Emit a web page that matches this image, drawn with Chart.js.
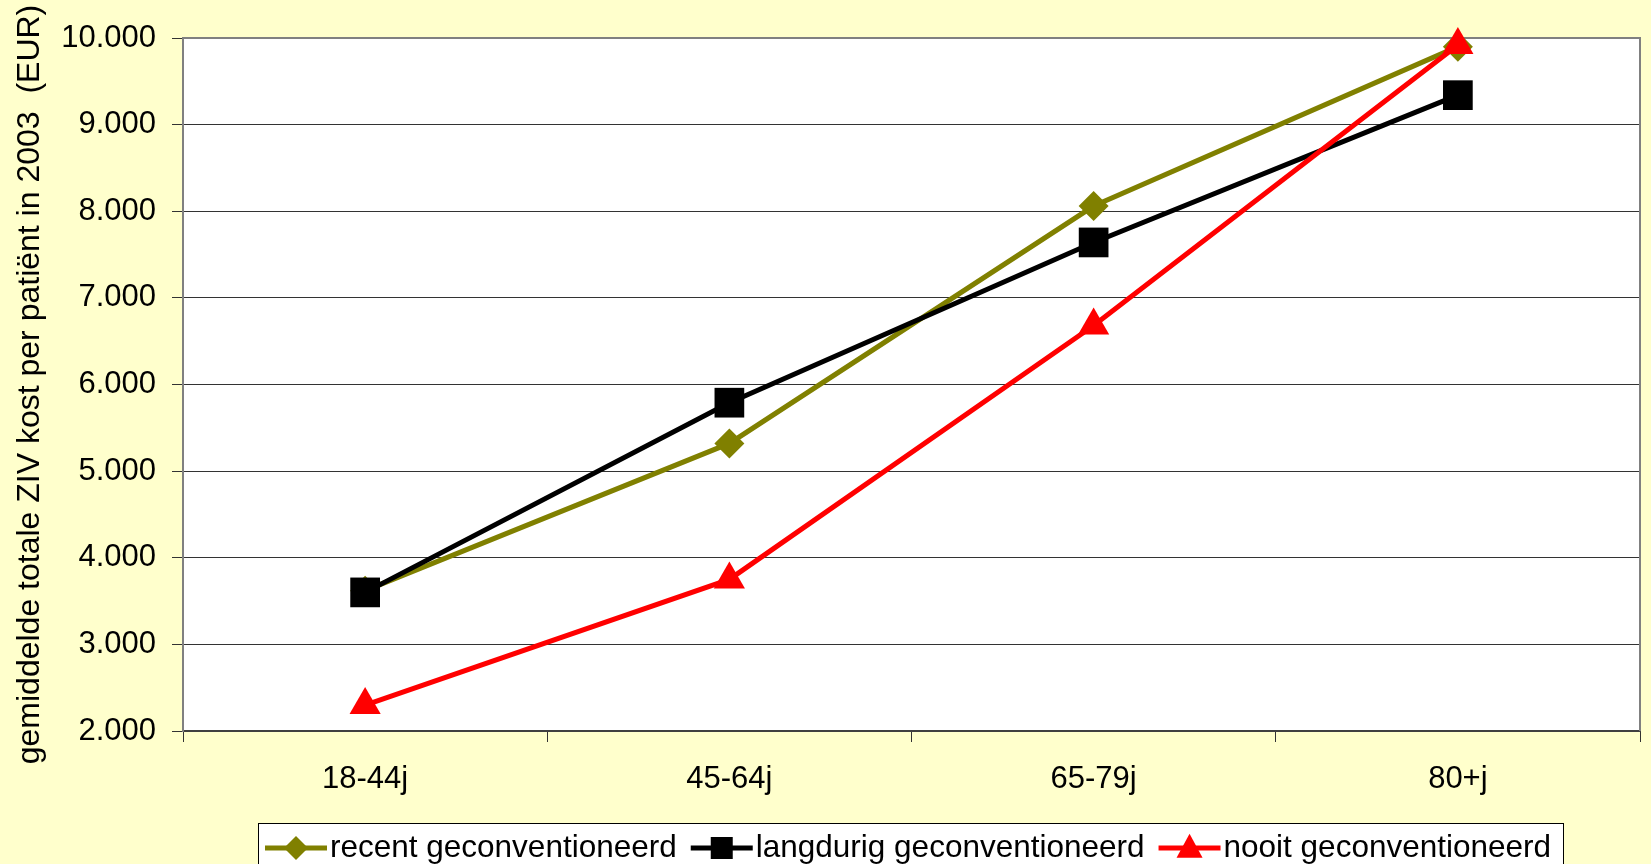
<!DOCTYPE html>
<html><head><meta charset="utf-8">
<script src="https://cdn.jsdelivr.net/npm/chart.js@4.4.0/dist/chart.umd.min.js"></script>
<style>html,body{margin:0;padding:0;background:#FFFFCC;} canvas{display:block}</style>
</head><body>
<canvas id="c" width="1651" height="864"></canvas>
<script>
const categories = ['18-44j', '45-64j', '65-79j', '80+j'];
const recentValues = [3620, 5320, 8060, 9900];
const langdurigValues = [3600, 5790, 7640, 9340];
const nooitValues = [2300, 3750, 6680, 9920];
const yMin = 2000, yMax = 10000, yStep = 1000;
const seriesNames = ['recent geconventioneerd', 'langdurig geconventioneerd', 'nooit geconventioneerd'];
const seriesColors = ['#808000', '#000000', '#FF0000'];
const seriesStyles = ['rectRot', 'rect', 'triangle'];
const yTitle = 'gemiddelde totale ZIV kost per patiënt in 2003  (EUR)';
const FONT = '"Liberation Sans", Arial, sans-serif';

function fmt(n){ return String(n).replace(/\B(?=(\d{3})+(?!\d))/g, '.'); }

const bgPlugin = {
  id: 'bg',
  beforeDraw(chart){
    const {ctx, chartArea:a} = chart;
    ctx.save();
    ctx.fillStyle = '#FFFFCC';
    ctx.fillRect(0,0,chart.width,chart.height);
    ctx.fillStyle = '#FFFFFF';
    ctx.fillRect(a.left, a.top, a.right-a.left, a.bottom-a.top);
    ctx.restore();
  },
  beforeDatasetsDraw(chart){
    const {ctx, chartArea:a} = chart;
    ctx.save();
    ctx.strokeStyle = '#808080';
    ctx.lineWidth = 2;
    ctx.beginPath();
    ctx.moveTo(a.left, a.top); ctx.lineTo(a.right, a.top); ctx.lineTo(a.right, a.bottom);
    ctx.stroke();
    ctx.restore();
  }
};

function marker(ctx, style, x, y, s, color){
  ctx.fillStyle = color;
  ctx.beginPath();
  if (style === 'rectRot'){
    ctx.moveTo(x, y-s); ctx.lineTo(x+s, y); ctx.lineTo(x, y+s); ctx.lineTo(x-s, y);
  } else if (style === 'rect'){
    ctx.rect(x-s, y-s, 2*s, 2*s);
  } else {
    ctx.moveTo(x, y-s*1.1); ctx.lineTo(x+s, y+s*0.75); ctx.lineTo(x-s, y+s*0.75);
  }
  ctx.closePath();
  ctx.fill();
}

const legendPlugin = {
  id: 'customLegend',
  afterDraw(chart){
    const ctx = chart.ctx;
    ctx.save();
    ctx.fillStyle = '#FFFFFF';
    ctx.fillRect(258, 823, 1305, 60);
    ctx.strokeStyle = '#000000';
    ctx.lineWidth = 1;
    ctx.strokeRect(258.5, 823.5, 1305, 60);
    ctx.font = '31.5px ' + FONT;
    ctx.textBaseline = 'middle';
    const cy = 848;
    let x = 265;
    const sizes = [12, 11, 13];
    seriesNames.forEach((name, i) => {
      ctx.strokeStyle = seriesColors[i];
      ctx.lineWidth = 5;
      ctx.beginPath(); ctx.moveTo(x, cy); ctx.lineTo(x+62, cy); ctx.stroke();
      marker(ctx, seriesStyles[i], x+31, cy, sizes[i], seriesColors[i]);
      ctx.fillStyle = '#000000';
      ctx.fillText(name, x+65, cy);
      x += 65 + ctx.measureText(name).width + 14;
    });
    ctx.restore();
  }
};

const values = [recentValues, langdurigValues, nooitValues];
const radii = [15, 21, 18];
const orders = [2, 1, 0];

new Chart(document.getElementById('c'), {
  type: 'line',
  data: {
    labels: categories,
    datasets: values.map((v, i) => ({
      label: seriesNames[i],
      data: v,
      borderColor: seriesColors[i],
      backgroundColor: seriesColors[i],
      borderWidth: 5,
      pointStyle: seriesStyles[i],
      pointRadius: radii[i],
      pointBorderWidth: 0,
      pointBackgroundColor: seriesColors[i],
      tension: 0,
      clip: false,
      order: orders[i]
    }))
  },
  options: {
    responsive: false,
    devicePixelRatio: 1,
    animation: false,
    layout: { autoPadding: false, padding: { top: 38, right: 11, left: 0, bottom: 0 } },
    plugins: { legend: { display: false }, tooltip: { enabled: false } },
    scales: {
      x: {
        offset: true,
        grid: { drawOnChartArea: false, offset: true, tickLength: 11, color: '#333333', lineWidth: 1 },
        border: { color: '#404040', width: 2 },
        ticks: { font: { family: FONT, size: 31 }, color: '#000000', padding: 19, maxRotation: 0 },
        afterFit(s){ s.height = 133; s.paddingLeft = 0; s.paddingRight = 0; }
      },
      y: {
        min: yMin, max: yMax,
        grid: { color: '#333333', lineWidth: 1, tickLength: 11 },
        border: { color: '#808080', width: 2 },
        ticks: { stepSize: yStep, font: { family: FONT, size: 31 }, color: '#000000', padding: 16,
                 callback: v => fmt(v) },
        title: { display: true, text: yTitle, font: { family: FONT, size: 32 }, color: '#000000',
                 padding: { top: 11, bottom: 0 } },
        afterFit(s){ s.width = 183; }
      }
    }
  },
  plugins: [bgPlugin, legendPlugin]
});
</script>
</body></html>
